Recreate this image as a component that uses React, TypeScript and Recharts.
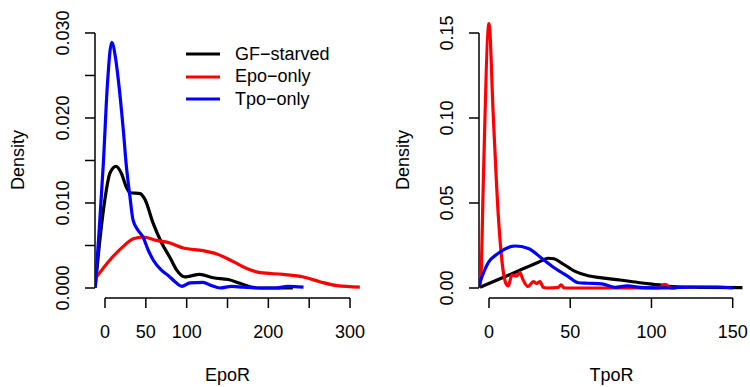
import React from "react";
import { LineChart, Line, XAxis, YAxis, ReferenceLine, Legend } from "recharts";

// density estimates, as [x, density] pairs
const epoGfStarved: [number, number][] = [
  [-12, 0.0001], [-7, 0.005], [0, 0.0105], [6, 0.0135], [13.5, 0.0143], [20, 0.0135],
  [26, 0.0119], [31, 0.0112], [43, 0.0111], [49, 0.0104], [59, 0.0076], [69.4, 0.0053],
  [80, 0.0035], [87.8, 0.0021], [98, 0.0013], [104, 0.0014], [116, 0.0016], [132.6, 0.0012],
  [151, 0.001], [165, 0.00055], [177.5, 0.00015], [190, 0], [230, 0],
];
const epoEpoOnly: [number, number][] = [
  [-12, 0.0011], [6, 0.0033], [22.4, 0.0049], [34.7, 0.0058], [47, 0.006], [63, 0.0056],
  [79.6, 0.0053], [95.9, 0.0047], [120, 0.0044], [136.8, 0.004], [157, 0.0031], [173.5, 0.0023],
  [190, 0.0018], [218, 0.0016], [243, 0.0013], [263, 0.00074], [284, 0.00027], [312, 0.0001],
];
const epoTpoOnly: [number, number][] = [
  [-12, 0], [-7, 0.007], [-2, 0.0147], [3, 0.024], [8.2, 0.0289], [13, 0.027], [16.3, 0.0245],
  [22.4, 0.0186], [26, 0.0145], [30.6, 0.0107], [34.3, 0.008], [40.4, 0.0068], [46.5, 0.006],
  [52.7, 0.0045], [59, 0.0033], [69, 0.0021], [77, 0.0015], [85, 0.0008], [94, 0.0002],
  [104, 0.0006], [120, 0.00067], [130, 0.0003], [141, 0], [155, 0.0002], [169, 0.0001],
  [186, 0], [210, 0], [224, 0.0002], [243, 0.0001],
];

const tpoGfStarved: [number, number][] = [
  [-5.5, 0.0004], [18, 0.01], [30, 0.015], [36.5, 0.0175], [40, 0.0172], [44.7, 0.0147],
  [53, 0.0098], [61, 0.0072], [69.4, 0.006], [80.6, 0.0047], [93, 0.0031], [105, 0.0018],
  [113, 0.0008], [130, 0.0004], [156, 0.0002],
];
const tpoEpoOnly: [number, number][] = [
  [-5.5, 0.0015], [-4.9, 0.0076], [-3.5, 0.0625], [0, 0.1555], [2.6, 0.102], [5.7, 0.043],
  [8.8, 0.0096], [10.9, 0.0018], [11.9, 0.0012], [14, 0.0076], [17, 0.007], [19, 0.009],
  [21, 0.0047], [24, 0.0008], [27.3, 0.0037], [29.3, 0.0027], [31.4, 0.0037], [33.4, 0.0004],
  [35.5, 0], [42.7, 0.0004], [44.3, 0.0018], [46.4, 0], [104, 0], [108.3, 0.0022], [112, 0],
  [115, 0],
];
const tpoTpoOnly: [number, number][] = [
  [-6.6, 0.0008], [-0.4, 0.015], [5.7, 0.0204], [16, 0.0247], [24.2, 0.0233], [32.4, 0.0175],
  [40.6, 0.0116], [48.8, 0.0067], [55, 0.0031], [61, 0.0028], [69.4, 0.0024], [77.5, 0.0004],
  [85, 0.0012], [95, 0.0002], [110, 0], [125, 0.0006], [140, 0.0006], [150, 0],
];

const seriesNames = ["GF\u2212starved", "Epo\u2212only", "Tpo\u2212only"];
const seriesColors = ["#000000", "#ff0000", "#0000ff"];

const epoXTicks = [0, 50, 100, 150, 200, 250, 300];
const epoXLabels = [0, 50, 100, 200, 300];
const epoYTicks = [0, 0.005, 0.01, 0.015, 0.02, 0.025, 0.03];
const epoYLabels = [0, 0.01, 0.02, 0.03];
const tpoXTicks = [0, 50, 100, 150];
const tpoYTicks = [0, 0.05, 0.1, 0.15];

const toPoints = (pairs: [number, number][]) => pairs.map(([x, y]) => ({ x, y }));

const FONT = "'Liberation Sans', Arial, sans-serif";
const FS = 18;

const XTick = ({ x, y, payload, shown }: any) =>
  shown.includes(payload.value) ? (
    <text x={x} y={y + 22} textAnchor="middle" dominantBaseline="central" fontSize={FS} fill="#000" fontFamily={FONT}>
      {payload.value}
    </text>
  ) : (
    <g />
  );

const YTick = ({ x, y, payload, shown, digits }: any) => {
  if (!shown.some((v: number) => Math.abs(v - payload.value) < 1e-9)) return <g />;
  const cx = x - 20;
  return (
    <text x={cx} y={y} transform={`rotate(-90, ${cx}, ${y})`} textAnchor="middle" dominantBaseline="central"
      fontSize={FS} fill="#000" fontFamily={FONT}>
      {payload.value.toFixed(digits)}
    </text>
  );
};

const renderLegend = () => (
  <div style={{ fontFamily: FONT, fontSize: FS, color: "#000" }}>
    {seriesNames.map((name, i) => (
      <div key={name} style={{ display: "flex", alignItems: "center", height: 22.5 }}>
        <svg width={49} height={6}>
          <line x1={0} x2={34} y1={3} y2={3} stroke={seriesColors[i]} strokeWidth={3.2} />
        </svg>
        <span>{name}</span>
      </div>
    ))}
  </div>
);

function DensityPanel({ title, series, xDomain, yDomain, xTicks, xLabels, yTicks, yLabels, digits, yAxisWidth, rightMargin, yTitleX, showLegend }: any) {
  return (
    <LineChart width={375} height={387} margin={{ top: 22, right: rightMargin, bottom: 0, left: 0 }}>
      <XAxis type="number" dataKey="x" domain={xDomain} ticks={xTicks} interval={0} allowDataOverflow
        axisLine={false} tickLine={{ stroke: "#000", strokeWidth: 1.5 }} tickSize={10} height={89}
        tick={(p: any) => <XTick {...p} shown={xLabels} />}
        label={{
          content: ({ viewBox }: any) => (
            <text x={viewBox.x + viewBox.width / 2} y={375} textAnchor="middle" dominantBaseline="central" fontSize={FS} fontFamily={FONT}>
              {title}
            </text>
          ),
        }}
      />
      <YAxis type="number" dataKey="y" domain={yDomain} ticks={yTicks} interval={0} allowDataOverflow
        axisLine={false} tickLine={{ stroke: "#000", strokeWidth: 1.5 }} tickSize={10} width={yAxisWidth}
        tick={(p: any) => <YTick {...p} shown={yLabels} digits={digits} />}
        label={{
          content: ({ viewBox }: any) => {
            const cy = viewBox.y + viewBox.height / 2;
            return (
              <text x={yTitleX} y={cy} transform={`rotate(-90, ${yTitleX}, ${cy})`} textAnchor="middle"
                dominantBaseline="central" fontSize={FS} fontFamily={FONT}>
                Density
              </text>
            );
          },
        }}
      />
      <ReferenceLine segment={[{ x: xTicks[0], y: yDomain[0] }, { x: xTicks[xTicks.length - 1], y: yDomain[0] }]}
        stroke="#000" strokeWidth={1.5} ifOverflow="visible" />
      <ReferenceLine segment={[{ x: xDomain[0], y: yTicks[0] }, { x: xDomain[0], y: yTicks[yTicks.length - 1] }]}
        stroke="#000" strokeWidth={1.5} ifOverflow="visible" />
      {series.map((s: [number, number][], i: number) => (
        <Line key={seriesNames[i]} name={seriesNames[i]} data={toPoints(s)} dataKey="y" type="monotone"
          stroke={seriesColors[i]} strokeWidth={3.2} dot={false} isAnimationActive={false} />
      ))}
      {showLegend && (
        <Legend content={renderLegend} layout="vertical" verticalAlign="middle" align="center"
          wrapperStyle={{ left: 186, top: 43, width: 170 }} />
      )}
    </LineChart>
  );
}

export default function App() {
  return (
    <div style={{ position: "absolute", left: 0, top: 0, width: 750, height: 387, display: "flex", background: "#fff", fontFamily: FONT }}>
      <DensityPanel
        title="EpoR"
        series={[epoGfStarved, epoEpoOnly, epoTpoOnly]}
        xDomain={[-12.24, 312.2]}
        yDomain={[-0.001176, 0.03129]}
        xTicks={epoXTicks}
        xLabels={epoXLabels}
        yTicks={epoYTicks}
        yLabels={epoYLabels}
        digits={3}
        yAxisWidth={95}
        rightMargin={15}
        yTitleX={18}
        showLegend
      />
      <DensityPanel
        title="TpoR"
        series={[tpoGfStarved, tpoEpoOnly, tpoTpoOnly]}
        xDomain={[-6.155, 156.95]}
        yDomain={[-0.00588, 0.15647]}
        xTicks={tpoXTicks}
        xLabels={tpoXTicks}
        yTicks={tpoYTicks}
        yLabels={tpoYTicks}
        digits={2}
        yAxisWidth={104}
        rightMargin={6}
        yTitleX={28}
        showLegend={false}
      />
    </div>
  );
}
